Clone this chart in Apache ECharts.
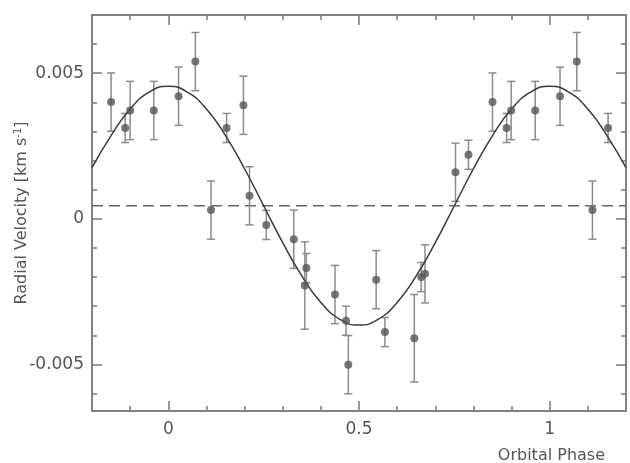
<!DOCTYPE html>
<html><head><meta charset="utf-8">
<script src="https://cdn.jsdelivr.net/npm/echarts@6/dist/echarts.min.js"></script>
<style>html,body{margin:0;padding:0;background:#fff}#c{width:630px;height:463px}</style>
</head><body><div id="c"></div>
<script>
// Observed radial velocities (displayed points, phase-folded, incl. repeated cycle)
const phase = [-0.150, -0.113, -0.100, -0.038, 0.027, 0.071, 0.112, 0.153, 0.197, 0.213, 0.257, 0.329, 0.358, 0.362, 0.437, 0.466, 0.472, 0.545, 0.568, 0.645, 0.663, 0.673, 0.753, 0.787, 0.850, 0.887, 0.899, 0.962, 1.027, 1.071, 1.112, 1.153];
const rv = [0.00401, 0.00312, 0.00372, 0.00372, 0.00421, 0.00540, 0.00030, 0.00312, 0.00390, 0.00079, -0.00021, -0.00070, -0.00229, -0.00169, -0.00260, -0.00350, -0.00501, -0.00209, -0.00389, -0.00410, -0.00200, -0.00189, 0.00160, 0.00220, 0.00401, 0.00312, 0.00372, 0.00372, 0.00421, 0.00540, 0.00030, 0.00312];
const rvErr = [0.001, 0.0005, 0.001, 0.001, 0.001, 0.001, 0.001, 0.0005, 0.001, 0.001, 0.0005, 0.001, 0.0015, 0.0005, 0.001, 0.0005, 0.001, 0.001, 0.0005, 0.0015, 0.0005, 0.001, 0.001, 0.0005, 0.001, 0.0005, 0.001, 0.001, 0.001, 0.001, 0.001, 0.0005];
// Fitted orbit curve
const curvePhase = [-0.20, -0.15, -0.10, -0.05, 0.00, 0.05, 0.10, 0.15, 0.20, 0.25, 0.30, 0.35, 0.40, 0.45, 0.50, 0.55, 0.60, 0.65, 0.70, 0.75, 0.80, 0.85, 0.90, 0.95, 1.00, 1.05, 1.10, 1.15, 1.20];
const curveRv = [0.00176, 0.00286, 0.00377, 0.00435, 0.00455, 0.00435, 0.00377, 0.00286, 0.00172, 0.00045, -0.00082, -0.00196, -0.00287, -0.00345, -0.00365, -0.00345, -0.00287, -0.00196, -0.00082, 0.00045, 0.00172, 0.00286, 0.00377, 0.00435, 0.00455, 0.00435, 0.00377, 0.00286, 0.00176];
const systemicRv = 0.00045;
// Axes
const xRange = [-0.2, 1.2];
const yRange = [-0.0066, 0.007];
const xMajorTicks = [0, 0.5, 1];
const xMinorTicks = [-0.1, 0.1, 0.2, 0.3, 0.4, 0.6, 0.7, 0.8, 0.9, 1.1];
const yMajorTicks = [-0.005, 0, 0.005];
const yMinorTicks = [-0.006, -0.004, -0.003, -0.002, -0.001, 0.001, 0.002, 0.003, 0.004, 0.006];
const xName = 'Orbital Phase';

const AX = '#7a7a7a', TXT = '#555555', FONT = 'DejaVu Sans';
function xAx(pos, ticks, len, labels, extra) {
  return Object.assign({
    type: 'value', position: pos, min: xRange[0], max: xRange[1],
    axisLine: { show: true, onZero: false, lineStyle: { color: AX, width: 1.5 } },
    axisTick: { show: true, inside: true, length: len, customValues: ticks, lineStyle: { color: AX, width: 1.5 } },
    axisLabel: labels ? { show: true, customValues: ticks, margin: 10, color: TXT, fontSize: 17, fontFamily: FONT } : { show: false },
    splitLine: { show: false }
  }, extra || {});
}
function yAx(pos, ticks, len, labels, extra) {
  return Object.assign({
    type: 'value', position: pos, min: yRange[0], max: yRange[1],
    axisLine: { show: true, onZero: false, lineStyle: { color: AX, width: 1.5 } },
    axisTick: { show: true, inside: true, length: len, customValues: ticks, lineStyle: { color: AX, width: 1.5 } },
    axisLabel: labels ? { show: true, customValues: ticks, margin: 8, color: TXT, fontSize: 17, fontFamily: FONT } : { show: false },
    splitLine: { show: false }
  }, extra || {});
}

const pts = phase.map((p, i) => [p, rv[i], rvErr[i]]);
const curve = curvePhase.map((p, i) => [p, curveRv[i]]);

const chart = echarts.init(document.getElementById('c'), null, { renderer: 'canvas' });
chart.setOption({
  animation: false,
  backgroundColor: '#fff',
  grid: { left: 92, top: 15, right: 4, bottom: 52, containLabel: false, outerBoundsMode: 'none' },
  xAxis: [
    xAx('bottom', xMajorTicks, 10, true, {
      name: xName, nameLocation: 'end', nameGap: 0, nameMoveOverlap: false,
      nameTextStyle: { color: TXT, fontSize: 16, fontFamily: FONT, align: 'right', verticalAlign: 'top', padding: [37, 21, 0, 0] }
    }),
    xAx('bottom', xMinorTicks, 5, false),
    xAx('top', xMajorTicks, 10, false),
    xAx('top', xMinorTicks, 5, false)
  ],
  yAxis: [
    yAx('left', yMajorTicks, 10, true, {
      name: '{a|Radial Velocity [km s}{b|-1}{a|]}', nameLocation: 'middle', nameGap: 62, nameRotate: 90, nameMoveOverlap: false,
      nameTextStyle: { rich: { a: { color: TXT, fontSize: 16, fontFamily: FONT }, b: { color: TXT, fontSize: 10, fontFamily: FONT, verticalAlign: 'top', padding: [0, 0, 7, 0] } } }
    }),
    yAx('left', yMinorTicks, 5, false),
    yAx('right', yMajorTicks, 10, false),
    yAx('right', yMinorTicks, 5, false)
  ],
  series: [
    {
      type: 'line', data: [[xRange[0], systemicRv], [xRange[1], systemicRv]],
      showSymbol: false, symbol: 'none', silent: true,
      lineStyle: { color: '#666666', width: 1.5, type: [11, 6] }, z: 1
    },
    {
      type: 'custom', data: pts, z: 2, silent: true,
      renderItem: function (params, api) {
        const x = api.value(0), y = api.value(1), e = api.value(2);
        const t = api.coord([x, y + e]), b = api.coord([x, y - e]);
        const w = 4;
        const st = { stroke: '#8c8c8c', lineWidth: 1.5 };
        return { type: 'group', children: [
          { type: 'line', shape: { x1: t[0], y1: t[1], x2: b[0], y2: b[1] }, style: st },
          { type: 'line', shape: { x1: t[0] - w, y1: t[1], x2: t[0] + w, y2: t[1] }, style: st },
          { type: 'line', shape: { x1: b[0] - w, y1: b[1], x2: b[0] + w, y2: b[1] }, style: st }
        ] };
      }
    },
    {
      type: 'line', data: curve, smooth: true, showSymbol: false, symbol: 'none', silent: true,
      lineStyle: { color: '#3a3a3a', width: 1.5 }, z: 3
    },
    {
      type: 'scatter', data: pts.map(d => [d[0], d[1]]), symbolSize: 8, silent: true,
      itemStyle: { color: '#555555' }, z: 4
    }
  ]
});
</script></body></html>
